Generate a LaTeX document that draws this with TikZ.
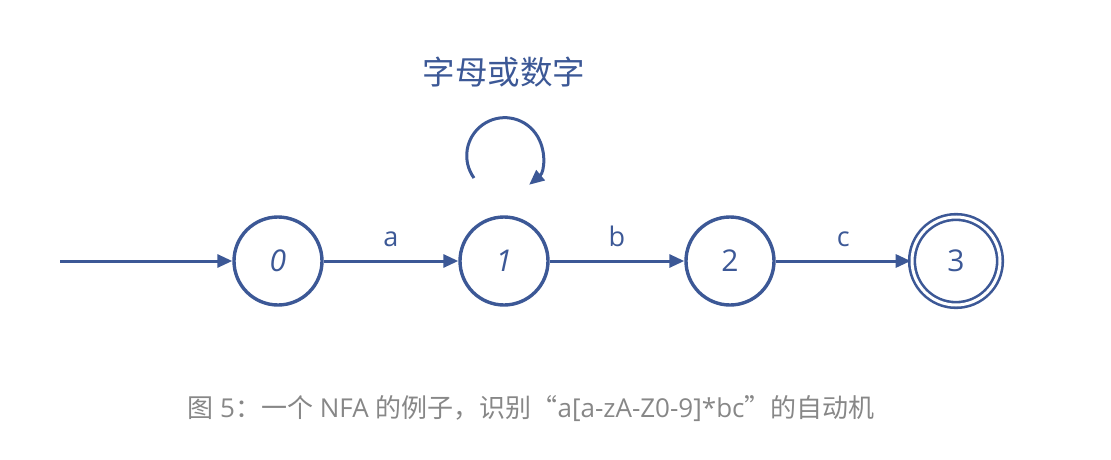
\documentclass[tikz,border=0pt]{standalone}
\usepackage{fontspec}
\setmainfont{Open Sans}
\newfontfamily\cjk{Noto Sans CJK SC}
\usetikzlibrary{arrows.meta}
\definecolor{nblue}{RGB}{60,88,150}
\definecolor{capgray}{RGB}{135,135,135}
\tikzset{
  state/.style={circle, draw=nblue, line width=3.4pt, minimum size=88pt, inner sep=0pt, text=nblue, font=\fontsize{30}{34}\selectfont},
  accept/.style={state, double=white, double distance=3pt, line width=2.6pt, minimum size=88pt},
  edge/.style={draw=nblue, line width=3pt, -{Triangle[length=15pt,width=13pt]}},
  elabel/.style={text=nblue, font=\fontsize{27}{30}\selectfont},
}
\begin{document}
\begin{tikzpicture}[x=1pt,y=1pt]
\useasboundingbox (0,0) rectangle (1111,459);
\node[state] (s0) at (278,198) {\itshape 0};
\node[state] (s1) at (504,198) {\itshape 1};
\node[state] (s2) at (730,198) {2};
\node[accept] (s3) at (956,198) {3};
\coordinate (init) at (60,198);
\draw[edge] (init) -- (s0);
\draw[edge] (s0) -- node[elabel, above=9pt] {a} (s1);
\draw[edge] (s1) -- node[elabel, above=9pt] {b} (s2);
\draw[edge] (s2) -- node[elabel, above=9pt] {c} (s3);
\coordinate (loopstart) at (474,281);
\draw[edge] (loopstart) arc[start angle=216, end angle=-50, radius=38];
\node[text=nblue, font=\cjk\fontsize{32.5}{36}\selectfont] (looplbl) at (504,387) {字母或数字};
\node[text=capgray, font=\fontsize{26}{30}\selectfont] (cap) at (531,50) {{\cjk 图} 5{\cjk ：一个} NFA {\cjk 的例子，识别“}a[a-zA-Z0-9]*bc{\cjk ”的自动机}};
\end{tikzpicture}
\end{document}
